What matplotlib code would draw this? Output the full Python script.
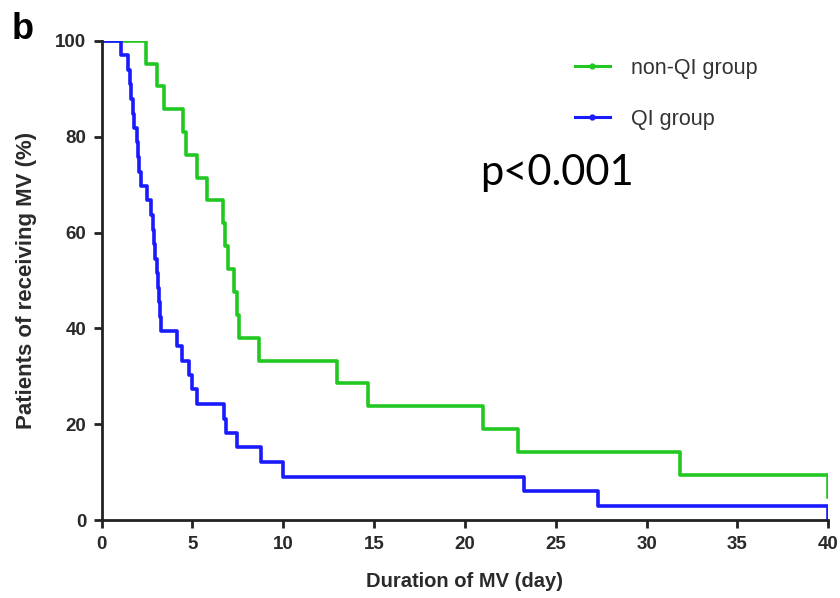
import matplotlib
matplotlib.use("Agg")
from matplotlib import pyplot as plt
from matplotlib.lines import Line2D

# step times (days) and % still on MV after each step
non_qi_days = [0, 2.44, 3.03, 3.43, 4.50, 4.64, 5.27, 5.78, 6.67, 6.79, 6.98,
               7.30, 7.45, 7.55, 8.65, 12.98, 14.69, 20.97, 22.90, 31.86, 40.0]
non_qi_pct = [100, 95.2, 90.5, 85.7, 81.0, 76.2, 71.4, 66.7, 61.9, 57.1, 52.4,
              47.6, 42.9, 38.1, 33.3, 28.6, 23.8, 19.0, 14.3, 9.5, 4.8]

qi_days = [0, 1.09, 1.47, 1.55, 1.61, 1.70, 1.80, 1.93, 2.00, 2.07, 2.15,
           2.48, 2.70, 2.84, 2.90, 2.94, 3.05, 3.12, 3.18, 3.22, 3.25,
           4.17, 4.40, 4.83, 5.00, 5.27, 6.75, 6.82, 7.44, 8.76, 9.97,
           23.27, 27.33, 40.0]
qi_pct = [100, 97.0, 93.9, 90.9, 87.9, 84.8, 81.8, 78.8, 75.8, 72.7, 69.7,
          66.7, 63.6, 60.6, 57.6, 54.5, 51.5, 48.5, 45.5, 42.4, 39.4,
          36.4, 33.3, 30.3, 27.3, 24.2, 21.2, 18.2, 15.2, 12.1, 9.1,
          6.1, 3.0, 0]

x_ticks = [0, 5, 10, 15, 20, 25, 30, 35, 40]
y_ticks = [0, 20, 40, 60, 80, 100]

GREEN = '#22c822'
BLUE = '#1a1aff'

plt.rcParams['font.family'] = ['Liberation Sans', 'DejaVu Sans']

fig = plt.figure(figsize=(8.4, 5.98), dpi=100)
ax = fig.add_axes([0.121, 0.130, 0.865, 0.802])

ax.step(non_qi_days, non_qi_pct, where='post', color=GREEN, linewidth=2.6,
        label='non-QI group')
ax.step(qi_days, qi_pct, where='post', color=BLUE, linewidth=2.6,
        label='QI group')

ax.set_xlim(0, 40)
ax.set_ylim(0, 100)
ax.set_xticks(x_ticks)
ax.set_yticks(y_ticks)
for side in ('top', 'right'):
    ax.spines[side].set_visible(False)
for side in ('left', 'bottom'):
    ax.spines[side].set_linewidth(2)
    ax.spines[side].set_color('#222222')
ax.tick_params(width=2, length=6, color='#222222', labelsize=13.5, pad=5)
for lbl in ax.get_xticklabels() + ax.get_yticklabels():
    lbl.set_fontweight('bold')
    lbl.set_color('#2a2a2a')

ax.set_xlabel('Duration of MV (day)', fontsize=14.5, fontweight='bold',
              color='#2a2a2a', labelpad=14)
ax.set_ylabel('Patients of receiving MV (%)', fontsize=16, fontweight='bold',
              color='#2a2a2a', labelpad=13)

# legend lines carry a small dot in the middle
handles = [Line2D([], [], color=GREEN, linewidth=2.2, marker='o', markersize=3.5),
           Line2D([], [], color=BLUE, linewidth=2.2, marker='o', markersize=3.5)]
ax.legend(handles, ['non-QI group', 'QI group'], loc='upper left',
          bbox_to_anchor=(0.625, 1.005), frameon=False, fontsize=15.5,
          handlelength=1.6, labelspacing=1.4, handletextpad=1.0,
          labelcolor='#333333')

fig.text(0.571, 0.69, 'p<0.001', fontsize=30, family=['Lato', 'DejaVu Sans'])
fig.text(0.014, 0.935, 'b', fontsize=26, fontweight='bold')

fig.savefig('out.png', dpi=100)
